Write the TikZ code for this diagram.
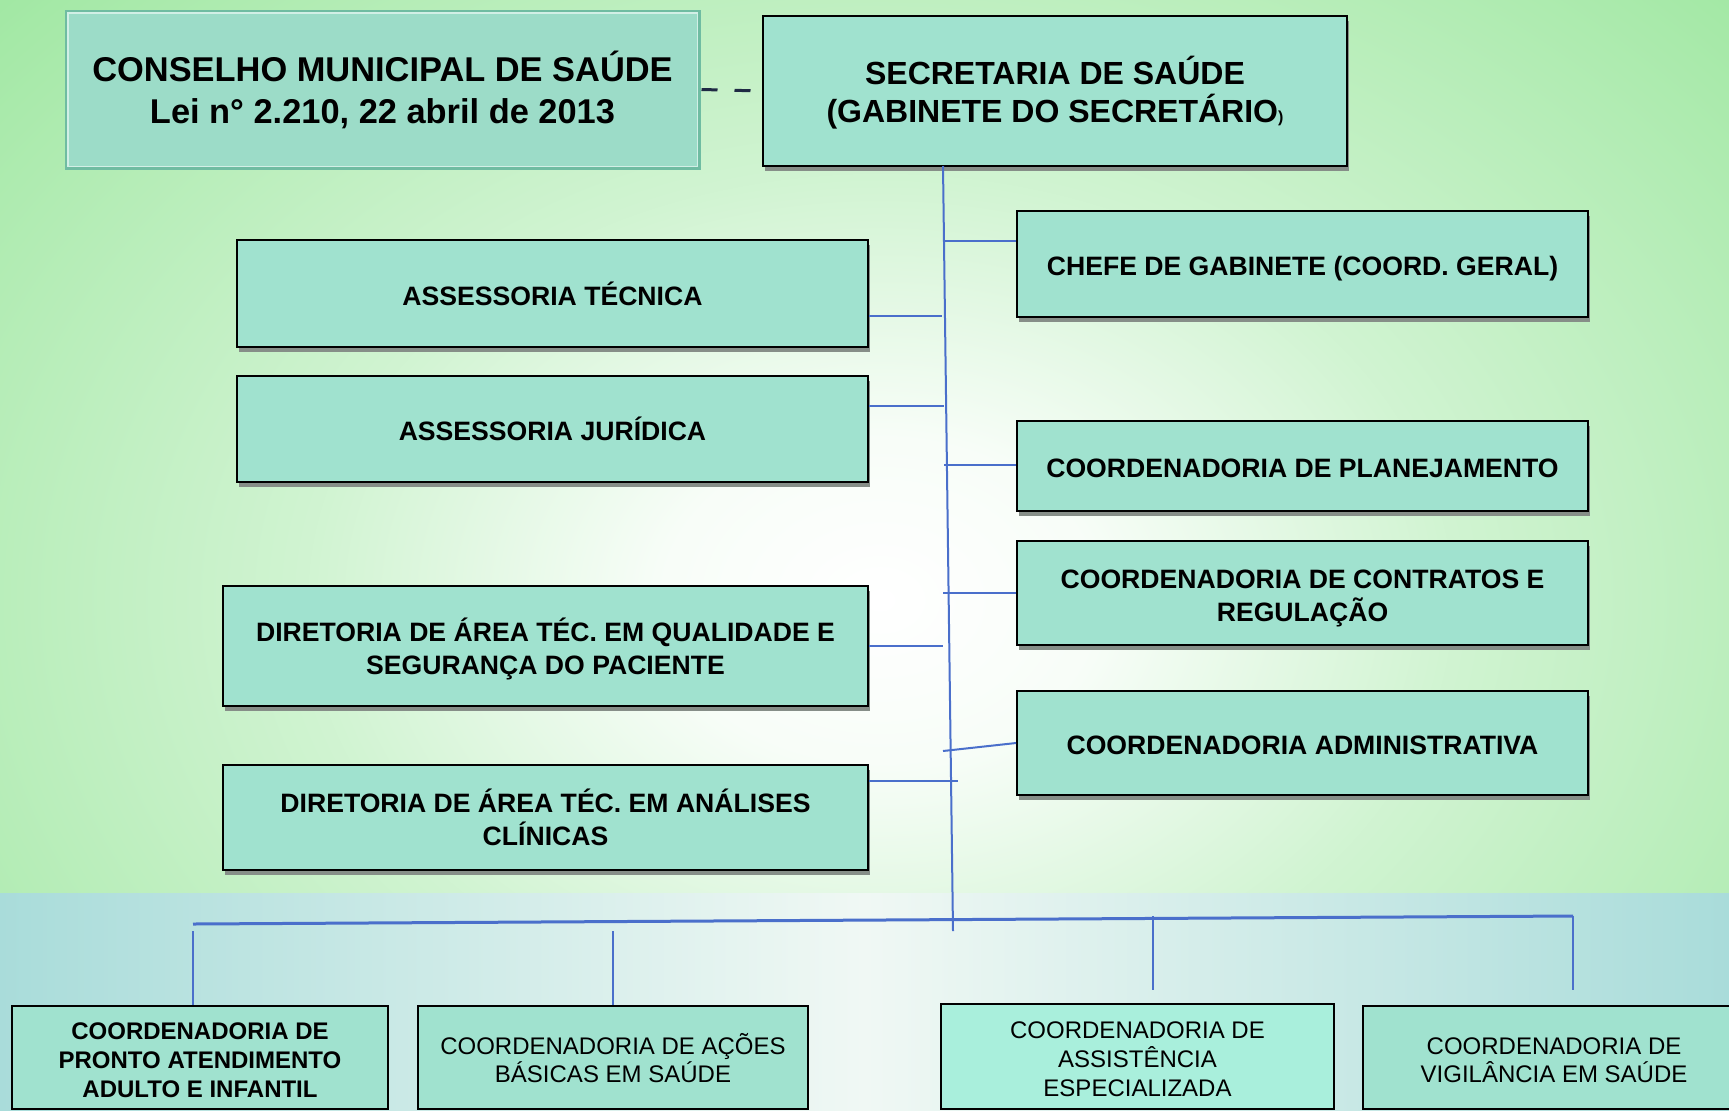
\documentclass[tikz,border=0pt]{standalone}
\usepackage{fontspec}
\setmainfont{Liberation Sans}
\usetikzlibrary{shadows}
\definecolor{boxfill}{HTML}{A0E2CF}
\definecolor{boxfillb}{HTML}{A9EFDC}
\definecolor{consfill}{HTML}{9CDCC8}
\definecolor{consborder}{HTML}{6FBCA2}
\definecolor{shadowgray}{HTML}{868E88}
\definecolor{linkblue}{HTML}{4A6FCB}
\definecolor{dashnavy}{HTML}{1F2A44}
\definecolor{bggreen}{HTML}{A2E8A4}
\definecolor{bgteal}{HTML}{94DCB8}
\definecolor{bandside}{HTML}{A9DCDA}
\definecolor{bandmid}{HTML}{F0F8F4}
\pgfdeclareradialshading{bgglow}{\pgfpoint{0bp}{0bp}}{color(0bp)=(white); color(5bp)=(white!92!bggreen); color(13bp)=(bggreen!50!white); color(27bp)=(bggreen); color(50bp)=(bgteal)}
% top struts (height only) and bottom struts (depth only)
\newcommand{\bsa}{\rule{0pt}{15.1pt}}
\newcommand{\bsb}{\rule[-3.3pt]{0pt}{3.3pt}}
\newcommand{\lsa}{\rule{0pt}{13.9pt}}
\newcommand{\lsb}{\rule[-2.9pt]{0pt}{2.9pt}}
\newcommand{\csa}{\rule{0pt}{17pt}}
\newcommand{\csb}{\rule[-3.8pt]{0pt}{3.8pt}}
\newcommand{\ssa}{\rule{0pt}{15.6pt}}
\newcommand{\ssb}{\rule[-3.55pt]{0pt}{3.55pt}}
\tikzset{
  box/.style={draw=black, line width=1pt, fill=boxfill, inner sep=2pt, align=center,
    font=\fontsize{13.3}{16.5}\selectfont\bfseries,
    drop shadow={shadow xshift=1pt, shadow yshift=-2.5pt, fill=shadowgray, opacity=1}},
  lowbox/.style={draw=black, line width=1.1pt, fill=boxfill, inner sep=2pt, align=center,
    minimum height=51.5pt, font=\fontsize{12}{14.3}\selectfont},
  conn/.style={draw=linkblue, line width=1pt},
  bar/.style={draw=linkblue, line width=1.5pt}
}
\begin{document}
\begin{tikzpicture}[x=0.5pt,y=-0.5pt]
\useasboundingbox (0,0) rectangle (1729,1110);
\clip (0,0) rectangle (1729,1110);
% background
\shade[shading=bgglow] (-220,-220) rectangle (1980,1420);
\shade[left color=bandside, right color=bandside, middle color=bandmid] (0,893) rectangle (1729,1110);

% top boxes
\node[draw=consborder, line width=1.5pt, fill=consfill, minimum width=316.5pt, minimum height=78.5pt,
  align=center, font=\fontsize{17.2}{21}\selectfont\bfseries,
  drop shadow={shadow xshift=0.8pt, shadow yshift=-0.8pt, fill=consborder!70!gray, opacity=1}]
  (Cons) at (382.5,89.5) {\csa CONSELHO MUNICIPAL DE SAÚDE\\Lei n° 2.210, 22 abril de 2013\csb};
\draw[white!55!consfill, line width=0.8pt] ([shift={(1.6pt,-1.6pt)}]Cons.north west) rectangle ([shift={(-1.6pt,1.6pt)}]Cons.south east);

\node[box, minimum width=292pt, minimum height=75pt, font=\fontsize{16}{19}\selectfont\bfseries]
  (Sec) at (1055,91) {\ssa SECRETARIA DE SAÚDE\\(GABINETE DO SECRETÁRIO{\fontsize{8}{8}\selectfont )}\ssb};

\draw[dashnavy, line width=1.5pt, dash pattern=on 8pt off 8.5pt] ([xshift=0.5pt]Cons.east) -- (Sec.west);

% left column
\node[box, minimum width=315.5pt, minimum height=53.5pt] (AT) at (552.5,293.5) {\bsa ASSESSORIA TÉCNICA\bsb};
\node[box, minimum width=315.5pt, minimum height=53pt] (AJ) at (552.5,429) {\bsa ASSESSORIA JURÍDICA\bsb};
\node[box, minimum width=322.5pt, minimum height=60pt] (DQ) at (545.5,646) {\bsa DIRETORIA DE ÁREA TÉC. EM QUALIDADE E\\SEGURANÇA DO PACIENTE\bsb};
\node[box, minimum width=322.5pt, minimum height=52.5pt] (DA) at (545.5,817.5) {\bsa DIRETORIA DE ÁREA TÉC. EM ANÁLISES\\CLÍNICAS\bsb};

% right column
\node[box, minimum width=285.5pt, minimum height=53pt] (CG) at (1302.5,264) {\bsa CHEFE DE GABINETE (COORD. GERAL)\bsb};
\node[box, minimum width=285.5pt, minimum height=45pt] (CP) at (1302.5,466) {\bsa COORDENADORIA DE PLANEJAMENTO\bsb};
\node[box, minimum width=285.5pt, minimum height=52pt] (CC) at (1302.5,593) {\bsa COORDENADORIA DE CONTRATOS E\\REGULAÇÃO\bsb};
\node[box, minimum width=285.5pt, minimum height=52pt] (CA) at (1302.5,743) {\bsa COORDENADORIA ADMINISTRATIVA\bsb};

% bottom row
\node[lowbox, minimum width=188pt, font=\fontsize{12}{14.3}\selectfont\bfseries] (PA) at (200,1057.5) {\lsa COORDENADORIA DE\\PRONTO ATENDIMENTO\\ADULTO E INFANTIL\lsb};
\node[lowbox, minimum width=195pt] (AB) at (613,1057.5) {\lsa COORDENADORIA DE AÇÕES\\BÁSICAS EM SAÚDE\lsb};
\node[lowbox, fill=boxfillb, minimum width=196.5pt, minimum height=52.5pt] (AE) at (1137.5,1056.5) {\lsa COORDENADORIA DE\\ASSISTÊNCIA\\ESPECIALIZADA\lsb};
\node[lowbox, minimum width=191pt] (VS) at (1554,1057.5) {\lsa COORDENADORIA DE\\VIGILÂNCIA EM SAÚDE\lsb};

% main trunk
\coordinate (vtop) at (943,166);
\coordinate (vbot) at (953,931);
\draw[conn] (vtop) -- (vbot);

% branches
\coordinate (jCG) at (945,241);
\draw[conn] (jCG) -- (jCG -| CG.west);
\coordinate (jAT) at (942,316);
\draw[conn] (AT.east |- jAT) -- (jAT);
\coordinate (jAJ) at (944,406);
\draw[conn] (AJ.east |- jAJ) -- (jAJ);
\coordinate (jCP) at (944,465);
\draw[conn] (jCP) -- (jCP -| CP.west);
\coordinate (jCC) at (943,593);
\draw[conn] (jCC) -- (jCC -| CC.west);
\coordinate (jDQ) at (943,646);
\draw[conn] (DQ.east |- jDQ) -- (jDQ);
\coordinate (jCA) at (943,751);
\draw[conn] (jCA) -- (CA.west);
\coordinate (jDA) at (958,781);
\draw[conn] (DA.east |- jDA) -- (jDA);

% bottom bar
\coordinate (bL) at (193,924);
\coordinate (bR) at (1573,916);
\draw[bar] (bL) -- (bR);
\coordinate (dPA) at (193,931);
\draw[conn] (dPA) -- (dPA |- PA.north);
\coordinate (dAB) at (613,931);
\draw[conn] (dAB) -- (dAB |- AB.north);
\coordinate (dAE) at (1153,916);
\coordinate (eAE) at (1153,990);
\draw[conn] (dAE) -- (eAE);
\coordinate (dVS) at (1573,916);
\coordinate (eVS) at (1573,990);
\draw[conn] (dVS) -- (eVS);
\end{tikzpicture}
\end{document}
